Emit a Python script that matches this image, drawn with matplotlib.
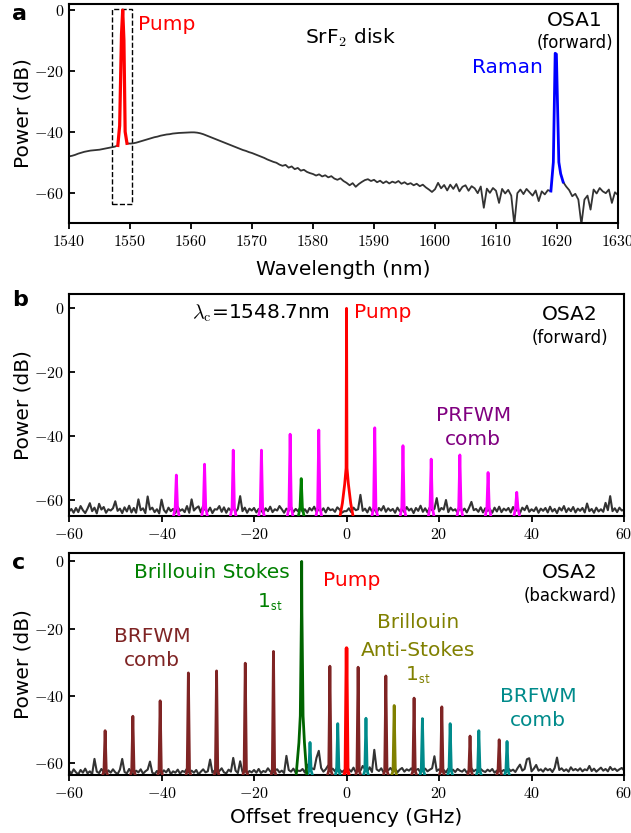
import numpy as np
import matplotlib.pyplot as plt
from matplotlib.patches import Rectangle
from matplotlib.ticker import FuncFormatter

plt.rcParams['font.family'] = ['DejaVu Sans']
plt.rcParams['mathtext.fontset'] = 'cm'

# ============================================================
# DATA
# ============================================================

# --- panel a : OSA1 forward spectrum, 1540..1630 nm every 0.5 nm
wl_start, wl_step = 1540.0, 0.5
osa1_power = [
    -48.1, -47.9, -47.6, -47.2, -46.9, -46.6, -46.4, -46.2, -46.1, -46.0,
    -45.9, -45.7, -45.5, -45.3, -45.1, -44.9, -44.5, np.nan, np.nan, -43.8,
    -43.9, -43.8, -43.6, -43.3, -43.0, -42.7, -42.4, -42.1, -41.8, -41.6,
    -41.3, -41.1, -40.9, -40.8, -40.6, -40.5, -40.4, -40.35, -40.3, -40.25,
    -40.2, -40.2, -40.3, -40.5, -40.8, -41.2, -41.6, -42.0, -42.4, -42.8,
    -43.2, -43.6, -44.0, -44.4, -44.8, -45.2, -45.6, -46.0, -46.3, -46.7,
    -47.0, -47.4, -47.8, -48.2, -48.6, -49.1, -49.5, -49.9, -50.2, -50.8,
    -51.2, -50.9, -51.8, -51.4, -52.3, -51.9, -52.8, -52.5, -53.2, -53.6,
    -53.9, -54.4, -54.0, -54.7, -54.3, -55.0, -54.6, -55.4, -55.8, -55.3,
    -56.2, -56.8, -57.6, -56.9, -58.1, -57.2, -56.5, -55.9, -55.6, -56.2,
    -55.8, -56.6, -56.1, -56.9, -56.3, -57.0, -56.4, -56.8, -56.2, -57.1,
    -56.6, -57.3, -56.9, -57.6, -57.1, -57.9, -57.4, -58.3, -59.0, -59.8,
    -58.9, -56.8, -58.6, -57.5, -59.3, -57.4, -58.8, -57.2, -59.6, -58.1,
    -57.6, -59.4, -57.9, -58.6, -60.2, -58.0, -65.0, -58.7, -60.1, -58.5,
    -59.4, -63.4, -58.8, -60.3, -59.1, -61.0, -70.5, -60.2, -59.0, -60.5,
    -58.8, -59.9, -61.0, -59.3, -62.8, -59.6, -60.6, -59.2, -59.5, np.nan,
    np.nan, np.nan, -56.5, -58.0, -59.2, -61.2, -60.4, -62.3, -70.5, -62.3,
    -61.0, -65.6, -59.0, -60.3, -58.5, -59.6, -60.2, -59.0, -63.4, -59.9,
    -60.8,
]
pump_a_wl = [1548.0, 1548.3, 1548.6, 1548.8, 1549.0, 1549.2, 1549.5]
pump_a_pw = [-44.5, -38.0, -8.0, 0.0, -10.0, -40.0, -43.8]
raman_wl = [1619.0, 1619.4, 1619.7, 1619.9, 1620.3, 1620.6, 1621.0]
raman_pw = [-59.5, -50.0, -14.2, -14.5, -50.0, -53.8, -56.5]

# --- panels b, c : noise floor, -60..60 GHz every 0.5 GHz
freq_start, freq_step = -60.0, 0.5
floor_b = [
    -63.6, -62.8, -64.0, -62.5, -63.8, -61.9, -63.2, -64.1, -62.7, -61.0,
    -63.5, -62.4, -64.2, -61.2, -63.0, -62.2, -64.0, -62.9, -63.3, -62.6,
    -60.4, -63.4, -62.7, -64.1, -62.3, -63.6, -61.8, -63.9, -62.5, -64.0,
    -59.8, -63.2, -62.6, -64.1, -58.9, -63.0, -62.4, -63.8, -62.9, -64.2,
    -59.9, -63.1, -64.0, -62.4, -63.5, -62.8, -64.1, -62.2, -63.4, -62.9,
    -63.8, -61.9, -64.0, -59.8, -63.3, -62.5, -62.0, -63.9, -61.8, -63.2,
    -63.6, -62.4, -64.1, -62.9, -63.0, -61.9, -63.7, -62.3, -64.0, -62.6,
    -63.4, -62.1, -63.8, -62.8, -58.8, -63.5, -62.4, -64.0, -62.7, -63.3,
    -62.5, -63.9, -62.8, -63.2, -64.1, -62.6, -63.5, -62.1, -63.8, -62.9,
    -63.3, -61.9, -62.9, -64.0, -62.7, -63.4, -62.2, -63.8, -62.8, -63.5,
    -62.4, -63.7, -62.9, -64.0, -62.5, -63.3, -62.1, -63.8, -62.8, -63.5,
    -62.6, -63.9, -62.4, -63.2, -62.9, -63.7, -62.3, -63.0, -64.0, -63.5,
    -63.5, -62.6, -63.8, -62.4, -63.2, -62.9, -58.4, -63.4, -62.7, -63.9,
    -62.3, -63.6, -62.8, -64.0, -62.5, -63.3, -61.9, -63.7, -62.6, -63.4,
    -62.8, -64.0, -62.4, -63.5, -62.9, -63.8, -62.2, -63.3, -62.7, -64.1,
    -62.5, -63.4, -61.8, -63.7, -62.6, -63.9, -62.3, -63.2, -62.8, -59.4,
    -63.6, -62.5, -63.0, -60.0, -63.8, -62.4, -63.3, -62.9, -64.0, -62.2,
    -63.5, -62.7, -63.9, -62.4, -60.6, -63.2, -62.8, -63.7, -62.3, -63.9,
    -62.6, -63.4, -62.9, -64.0, -62.4, -63.6, -62.1, -63.8, -62.7, -63.3,
    -62.5, -63.9, -62.2, -63.5, -62.8, -64.1, -62.4, -63.2, -61.8, -63.7,
    -62.9, -63.5, -62.3, -64.0, -62.7, -63.4, -62.5, -63.9, -62.1, -63.6,
    -62.8, -64.1, -62.4, -63.3, -61.9, -63.8, -62.6, -63.5, -62.2, -63.9,
    -62.7, -63.4, -62.5, -63.9, -61.1, -63.5, -62.8, -64.0, -62.4, -63.6,
    -62.9, -63.7, -60.9, -63.2, -58.8, -63.5, -62.6, -63.8, -62.4, -63.3,
    -63.0,
]
floor_c = [
    -62.3, -63.2, -61.9, -62.8, -63.4, -62.1, -62.9, -61.7, -63.1, -62.5,
    -63.3, -58.8, -62.6, -63.0, -61.8, -62.7, -63.4, -62.2, -62.9, -61.9,
    -62.8, -63.3, -62.0, -58.8, -62.7, -63.1, -61.8, -62.9, -63.4, -62.3,
    -62.8, -61.9, -63.2, -62.5, -62.0, -59.6, -62.9, -63.3, -62.4, -62.7,
    -63.1, -62.2, -62.8, -61.8, -63.3, -62.5, -62.9, -62.0, -63.2, -62.4,
    -62.7, -61.7, -63.0, -62.3, -62.9, -62.1, -63.4, -62.6, -61.9, -62.8,
    -62.5, -59.0, -62.9, -62.2, -63.2, -62.4, -61.6, -62.8, -63.1, -62.0,
    -62.6, -58.5, -62.3, -63.0, -59.5, -62.7, -61.9, -63.2, -62.4, -62.8,
    -62.1, -62.9, -61.8, -63.0, -62.4, -62.7, -61.6, -62.5, -63.1, -62.2,
    -61.9, -62.8, -62.3, -63.0, -57.9, -62.1, -62.6, -61.7, -62.9, -62.3,
    -62.4, -61.8, -62.9, -60.5, -62.2, -61.6, -61.9, -58.5, -56.4, -61.5,
    -62.6, -61.9, -60.8, -62.3, -61.7, -62.5, -61.2, -62.0, -62.7, -62.2,
    -62.5, -61.9, -62.6, -61.4, -62.8, -61.7, -62.3, -60.9, -61.8, -62.5,
    -61.3, -62.7, -56.1, -61.9, -62.4, -61.6, -62.8, -61.8, -62.2, -61.5,
    -62.4, -61.7, -62.8, -62.0, -61.5, -62.6, -61.9, -62.3, -61.6, -62.7,
    -62.1, -61.8, -62.9, -62.2, -61.7, -62.5, -62.0, -61.6, -58.0, -62.4,
    -61.9, -62.6, -62.1, -62.8, -61.7, -62.4, -62.0, -62.7, -61.8, -62.3,
    -62.6, -61.9, -62.9, -62.2, -61.6, -62.5, -62.0, -62.8, -61.8, -62.4,
    -62.7, -62.0, -62.5, -61.8, -62.9, -62.3, -61.9, -62.6, -62.1, -62.8,
    -61.7, -62.4, -62.0, -62.7, -61.5, -60.5, -62.3, -61.8, -58.9, -58.6,
    -62.5, -61.7, -60.6, -62.3, -61.9, -62.6, -61.6, -62.2, -61.8, -62.7,
    -61.5, -58.4, -62.1, -61.6, -62.4, -61.9, -62.6, -61.3, -62.2, -61.8,
    -62.3, -61.6, -62.5, -61.9, -62.2, -60.9, -62.4, -61.7, -62.6, -62.0,
    -61.4, -62.3, -61.8, -62.5, -61.2, -62.1, -61.7, -62.4, -61.9, -61.5,
    -62.2,
]

# --- panel b lines (GHz, dB)
prfwm_pos = [-36.8, -30.7, -24.5, -18.4, -12.2, -6.0, 6.1, 12.2, 18.3, 24.5, 30.6, 36.8]
prfwm_pw = [-52.2, -48.8, -44.4, -44.4, -39.4, -38.1, -37.4, -43.0, -47.2, -45.9, -51.4, -57.6]
stokes_b_pos, stokes_b_pw = [-9.8], [-53.3]
pump_b_f = [-1.4, -0.9, -0.4, -0.1, 0.0, 0.1, 0.4, 0.9, 1.4]
pump_b_pw = [-65.0, -61.0, -55.0, -50.0, 0.0, -50.0, -55.0, -61.0, -65.0]

# --- panel c lines (GHz, dB)
brfwm_red_pos = [-52.2, -46.2, -40.3, -34.2, -28.1, -21.9, -15.8,
                 -3.6, 2.5, 8.5, 14.6, 20.6, 26.7, 33.0]
brfwm_red_pw = [-50.4, -46.1, -41.5, -33.2, -32.6, -30.3, -26.8,
                -31.2, -31.5, -34.1, -40.7, -43.3, -52.0, -53.1]
brfwm_teal_pos = [-7.9, -1.9, 4.2, 16.4, 22.4, 28.6, 34.7]
brfwm_teal_pw = [-53.9, -48.3, -46.7, -46.8, -48.3, -50.4, -53.6]
antistokes_pos, antistokes_pw = [10.3], [-42.9]
pump_c_pos, pump_c_pw = [0.0], [-25.8]
stokes_c_f = [-10.9, -10.3, -10.0, -9.75, -9.7, -9.65, -9.4, -9.1, -8.6]
stokes_c_pw = [-63.6, -54.0, -46.0, -15.0, 0.0, -15.0, -46.0, -54.0, -63.6]

# colours
TRACE = '#333333'
PINK = '#ff00ff'
BROWN = '#7f2424'
TEAL = '#008b8b'
OLIVE = '#808000'

FS = 14.5
TICK_FS = 11.5


def style_axes(ax):
    for s in ax.spines.values():
        s.set_linewidth(1.5)
    ax.tick_params(axis='x', direction='out', length=4.5, width=1.3,
                   labelsize=TICK_FS, top=False)
    ax.tick_params(axis='y', direction='in', length=4, width=1.3,
                   labelsize=TICK_FS, right=False)
    fmt = FuncFormatter(lambda v, p: rf'${v:.0f}$')
    ax.xaxis.set_major_formatter(fmt)
    ax.yaxis.set_major_formatter(fmt)
    ax.set_yticks([-60, -40, -20, 0])


def comb(ax, pos, pw, color, bottom, lw=2.0):
    for p, h in zip(pos, pw):
        ax.plot([p - 0.6, p - 0.25, p, p + 0.25, p + 0.6],
                [bottom, -62.3, h, -62.3, bottom],
                color=color, lw=lw, zorder=3)


fig = plt.figure(figsize=(6.31, 8.33), dpi=100)

# ============================================================
# a
# ============================================================
ax = fig.add_axes([0.1094, 0.7323, 0.870, 0.2629])
wl = wl_start + wl_step * np.arange(len(osa1_power))
ax.plot(wl, osa1_power, color=TRACE, lw=1.3)
ax.plot(pump_a_wl, pump_a_pw, color='red', lw=2.3)
ax.plot(raman_wl, raman_pw, color='blue', lw=2.0)
ax.add_patch(Rectangle((1547.0, -63.6), 3.4, 64.0, fill=False,
                       ls='--', lw=1.0, ec='black'))
ax.set_xlim(1540, 1630)
ax.set_ylim(-70, 2)
ax.set_xticks(np.arange(1540, 1631, 10))
style_axes(ax)
ax.set_xlabel('Wavelength (nm)', fontsize=FS)
ax.set_ylabel('Power (dB)', fontsize=FS)
ax.yaxis.set_label_coords(-0.067, 0.5)
ax.xaxis.set_label_coords(0.5, -0.17)
ax.text(1551.3, -4.9, 'Pump', color='red', fontsize=FS, va='center')
ax.text(1578.7, -9.2, r'SrF$_\mathsf{2}$ disk', fontsize=FS, va='center')
ax.text(1622.9, -3.3, 'OSA1', fontsize=FS, ha='center', va='center')
ax.text(1622.9, -10.8, '(forward)', fontsize=12, ha='center', va='center')
ax.text(1606.0, -19.0, 'Raman', color='blue', fontsize=FS, va='center')

# ============================================================
# b
# ============================================================
ax = fig.add_axes([0.1094, 0.3806, 0.8796, 0.2665])
f = freq_start + freq_step * np.arange(len(floor_b))
ax.plot(f, floor_b, color=TRACE, lw=1.5)
comb(ax, prfwm_pos, prfwm_pw, PINK, -65)
comb(ax, stokes_b_pos, stokes_b_pw, 'green', -65)
ax.plot(pump_b_f, pump_b_pw, color='red', lw=2.0, zorder=4)
ax.set_xlim(-60, 60)
ax.set_ylim(-65, 4.5)
ax.set_xticks(np.arange(-60, 61, 20))
style_axes(ax)
ax.set_ylabel('Power (dB)', fontsize=FS)
ax.yaxis.set_label_coords(-0.0667, 0.5)
ax.text(-33.4, -1.6, r'$\lambda_{\rm c}$=1548.7nm', fontsize=FS, va='center')
ax.text(1.6, -1.25, 'Pump', color='red', fontsize=FS, va='center')
ax.text(48.3, -1.9, 'OSA2', fontsize=FS, ha='center', va='center')
ax.text(48.3, -9.4, '(forward)', fontsize=12, ha='center', va='center')
ax.text(27.4, -37.2, 'PRFWM\ncomb', color='purple', fontsize=FS,
        ha='center', va='center', linespacing=1.35)

# ============================================================
# c
# ============================================================
ax = fig.add_axes([0.1094, 0.0696, 0.8796, 0.2665])
f = freq_start + freq_step * np.arange(len(floor_c))
ax.plot(f, floor_c, color=TRACE, lw=1.5)
comb(ax, brfwm_red_pos, brfwm_red_pw, BROWN, -64)
comb(ax, brfwm_teal_pos, brfwm_teal_pw, TEAL, -64)
comb(ax, antistokes_pos, antistokes_pw, OLIVE, -64)
comb(ax, pump_c_pos, pump_c_pw, 'red', -64, lw=2.5)
ax.plot(stokes_c_f, stokes_c_pw, color='darkgreen', lw=2.0, zorder=4)
ax.set_xlim(-60, 60)
ax.set_ylim(-63.6, 2.5)
ax.set_xticks(np.arange(-60, 61, 20))
style_axes(ax)
ax.set_xlabel('Offset frequency (GHz)', fontsize=FS)
ax.set_ylabel('Power (dB)', fontsize=FS)
ax.yaxis.set_label_coords(-0.0667, 0.5)
ax.xaxis.set_label_coords(0.5, -0.15)
ax.text(-29.1, -3.3, 'Brillouin Stokes', color='green', fontsize=FS,
        ha='center', va='center')
ax.text(-16.5, -12.2, r'1$_\mathsf{st}$', color='green', fontsize=FS,
        ha='center', va='center')
ax.text(1.2, -5.6, 'Pump', color='red', fontsize=FS, ha='center', va='center')
ax.text(48.3, -3.3, 'OSA2', fontsize=FS, ha='center', va='center')
ax.text(48.3, -10.4, '(backward)', fontsize=12, ha='center', va='center')
ax.text(-42.1, -26.0, 'BRFWM\ncomb', color=BROWN, fontsize=FS,
        ha='center', va='center', linespacing=1.3)
ax.text(15.5, -18.1, 'Brillouin', color=OLIVE, fontsize=FS,
        ha='center', va='center')
ax.text(15.5, -26.4, 'Anti-Stokes', color=OLIVE, fontsize=FS,
        ha='center', va='center')
ax.text(15.5, -34.0, r'1$_\mathsf{st}$', color=OLIVE, fontsize=FS,
        ha='center', va='center')
ax.text(41.4, -43.8, 'BRFWM\ncomb', color=TEAL, fontsize=FS,
        ha='center', va='center', linespacing=1.3)

# panel letters
for lbl, y in [('a', 14), ('b', 300), ('c', 563)]:
    fig.text(12 / 631, 1 - y / 833, lbl, fontsize=16, fontweight='bold',
             ha='left', va='center')

fig.savefig('out.png', dpi=100)
